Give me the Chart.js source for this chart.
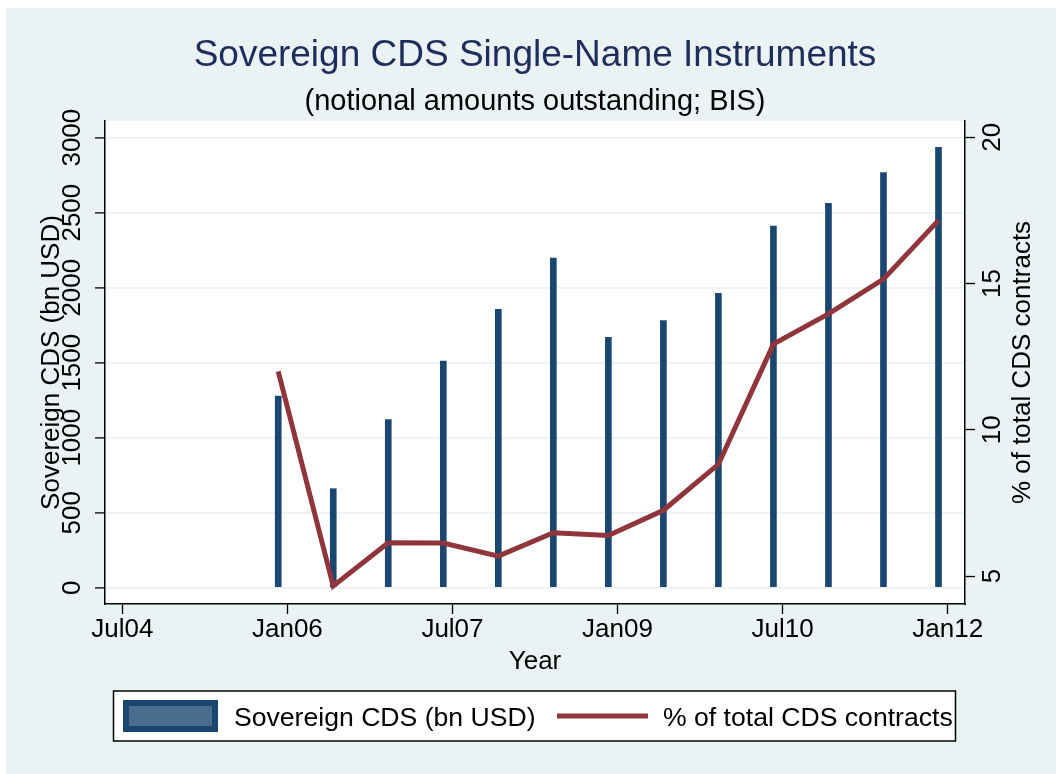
<!DOCTYPE html>
<html>
<head>
<meta charset="utf-8">
<title>Sovereign CDS Single-Name Instruments</title>
<script src="https://cdn.jsdelivr.net/npm/chart.js@4.4.1/dist/chart.umd.min.js"></script>
<style>
  html, body { margin: 0; padding: 0; background: #fff; }
  canvas { display: block; }
</style>
</head>
<body>
<canvas id="cdsChart" width="1056" height="774"></canvas>
<script>
/* ---- Data (semiannual) ---- */
const PERIODS = [
  "2005-12", "2006-06", "2006-12", "2007-06", "2007-12", "2008-06", "2008-12",
  "2009-06", "2009-12", "2010-06", "2010-12", "2011-06", "2011-12"
];
const SOVEREIGN_CDS = [1278, 660, 1120, 1511, 1856, 2198, 1669, 1780, 1962, 2411, 2563, 2767, 2936];
const SHARE_OF_TOTAL = [12.0, 4.66, 6.14, 6.13, 5.68, 6.48, 6.39, 7.25, 8.82, 12.93, 13.96, 15.15, 17.16];

const X_TICKS = ["2004-07", "2006-01", "2007-07", "2009-01", "2010-07", "2012-01"];
const X_TICK_LABELS = ["Jul04", "Jan06", "Jul07", "Jan09", "Jul10", "Jan12"];
const LEFT_TICKS = [0, 500, 1000, 1500, 2000, 2500, 3000];
const RIGHT_TICKS = [5, 10, 15, 20];

/* ---- Look ---- */
const BG = "#eaf2f3";
const NAVY = "#1a476f";
const MAROON = "#90353b";
const TITLE_COLOR = "#1f2d5c";
const FONT = "'Liberation Sans', Arial, Helvetica, sans-serif";

// months counted from Jul 2004
function monthIndex(s){
  const [y, m] = s.split("-").map(Number);
  return (y - 2004) * 12 + (m - 7);
}

const barPoints = PERIODS.map((p, i) => ({ x: monthIndex(p), y: SOVEREIGN_CDS[i] }));
const linePoints = PERIODS.map((p, i) => ({ x: monthIndex(p), y: SHARE_OF_TOTAL[i] }));
const xTickValues = X_TICKS.map(monthIndex);

function rotText(ctx, text, x, y){
  ctx.save();
  ctx.translate(x, y);
  ctx.rotate(-Math.PI / 2);
  ctx.fillText(text, 0, 0);
  ctx.restore();
}

/* ---- Stata-like frame, titles, rotated labels, legend ---- */
const stataFrame = {
  id: "stataFrame",
  beforeDraw(chart){
    const { ctx, chartArea: a, width, height } = chart;
    ctx.save();
    ctx.fillStyle = "#ffffff";
    ctx.fillRect(0, 0, width, height);
    ctx.fillStyle = BG;
    ctx.fillRect(6, 8, width - 6, height - 8);
    ctx.fillStyle = "#ffffff";
    ctx.fillRect(a.left, a.top, a.right - a.left, a.bottom - a.top);
    ctx.restore();
  },
  afterDraw(chart){
    const { ctx, chartArea: a } = chart;
    const midX = (a.left + a.right) / 2;
    const midY = (a.top + a.bottom) / 2;
    ctx.save();
    ctx.textBaseline = "alphabetic";

    // titles
    ctx.textAlign = "center";
    ctx.fillStyle = TITLE_COLOR;
    ctx.font = "37px " + FONT;
    ctx.fillText("Sovereign CDS Single-Name Instruments", midX, 66);
    ctx.fillStyle = "#000";
    ctx.font = "29px " + FONT;
    ctx.fillText("(notional amounts outstanding; BIS)", midX, 110);

    // axis titles
    ctx.font = "26px " + FONT;
    ctx.fillText("Year", midX, 669);
    rotText(ctx, "Sovereign CDS (bn USD)", 58.5, midY);
    rotText(ctx, "% of total CDS contracts", 1030, midY);

    // rotated y tick labels, placed by the scales
    const yL = chart.scales.y, yR = chart.scales.y2;
    yL.ticks.forEach(t => rotText(ctx, String(t.value), 79.5, yL.getPixelForValue(t.value)));
    yR.ticks.forEach(t => rotText(ctx, String(t.value), 1000, yR.getPixelForValue(t.value)));

    // legend box
    const ds = chart.data.datasets;
    ctx.fillStyle = "#fff";
    ctx.fillRect(113.5, 691, 842, 50);
    ctx.strokeStyle = "#000";
    ctx.lineWidth = 1.5;
    ctx.strokeRect(113.5, 691, 842, 50);

    ctx.fillStyle = "#4a6d8e";
    ctx.fillRect(123, 700, 95, 32);
    ctx.strokeStyle = ds[0].backgroundColor;
    ctx.lineWidth = 6;
    ctx.strokeRect(126, 703, 89, 26);

    ctx.strokeStyle = ds[1].borderColor;
    ctx.lineWidth = 5;
    ctx.beginPath();
    ctx.moveTo(557, 716);
    ctx.lineTo(648, 716);
    ctx.stroke();

    ctx.fillStyle = "#000";
    ctx.textAlign = "left";
    ctx.font = "26.6px " + FONT;
    ctx.fillText(ds[0].label, 234, 726);
    ctx.fillText(ds[1].label, 663, 726);
    ctx.restore();
  }
};

function zeroWidth(scale){ scale.width = 0; }

const data = {
  datasets: [
    {
      type: "bar",
      label: "Sovereign CDS (bn USD)",
      data: barPoints,
      yAxisID: "y",
      backgroundColor: NAVY,
      borderWidth: 0,
      barThickness: 6,
      order: 2
    },
    {
      type: "line",
      label: "% of total CDS contracts",
      data: linePoints,
      yAxisID: "y2",
      borderColor: MAROON,
      borderWidth: 5,
      pointRadius: 0,
      tension: 0,
      fill: false,
      order: 1
    }
  ]
};

const options = {
  responsive: false,
  animation: false,
  layout: { padding: { left: 105, right: 91, top: 121, bottom: 110 } },
  plugins: {
    legend: { display: false },
    title: { display: false },
    tooltip: { enabled: false }
  },
  scales: {
    x: {
      type: "linear",
      min: -1.89,
      max: 91.89,
      offset: false,
      afterFit: (s) => { s.height = 60; },
      afterBuildTicks: (s) => { s.ticks = xTickValues.map(v => ({ value: v })); },
      grid: { display: true, drawOnChartArea: false, drawTicks: true, tickLength: 10, tickColor: "#000", tickWidth: 1.3, offset: false },
      border: { display: true, color: "#000", width: 1.5 },
      ticks: {
        padding: 0,
        color: "#000",
        font: { family: FONT, size: 26 },
        maxRotation: 0,
        autoSkip: false,
        callback: (v) => X_TICK_LABELS[xTickValues.indexOf(v)] ?? ""
      }
    },
    y: {
      type: "linear",
      position: "left",
      min: -108.7,
      max: 3111,
      afterFit: zeroWidth,
      afterBuildTicks: (s) => { s.ticks = LEFT_TICKS.map(v => ({ value: v })); },
      grid: { color: BG, lineWidth: 1.8, tickLength: 10, tickColor: "#000", tickWidth: 1.3 },
      border: { display: true, color: "#000", width: 1.5 },
      ticks: { display: false }
    },
    y2: {
      type: "linear",
      position: "right",
      min: 4.045,
      max: 20.556,
      afterFit: zeroWidth,
      afterBuildTicks: (s) => { s.ticks = RIGHT_TICKS.map(v => ({ value: v })); },
      grid: { drawOnChartArea: false, tickLength: 10, tickColor: "#000", tickWidth: 1.3 },
      border: { display: true, color: "#000", width: 1.5 },
      ticks: { display: false }
    }
  }
};

new Chart(document.getElementById("cdsChart"), {
  type: "bar",
  data,
  options,
  plugins: [stataFrame]
});
</script>
</body>
</html>
